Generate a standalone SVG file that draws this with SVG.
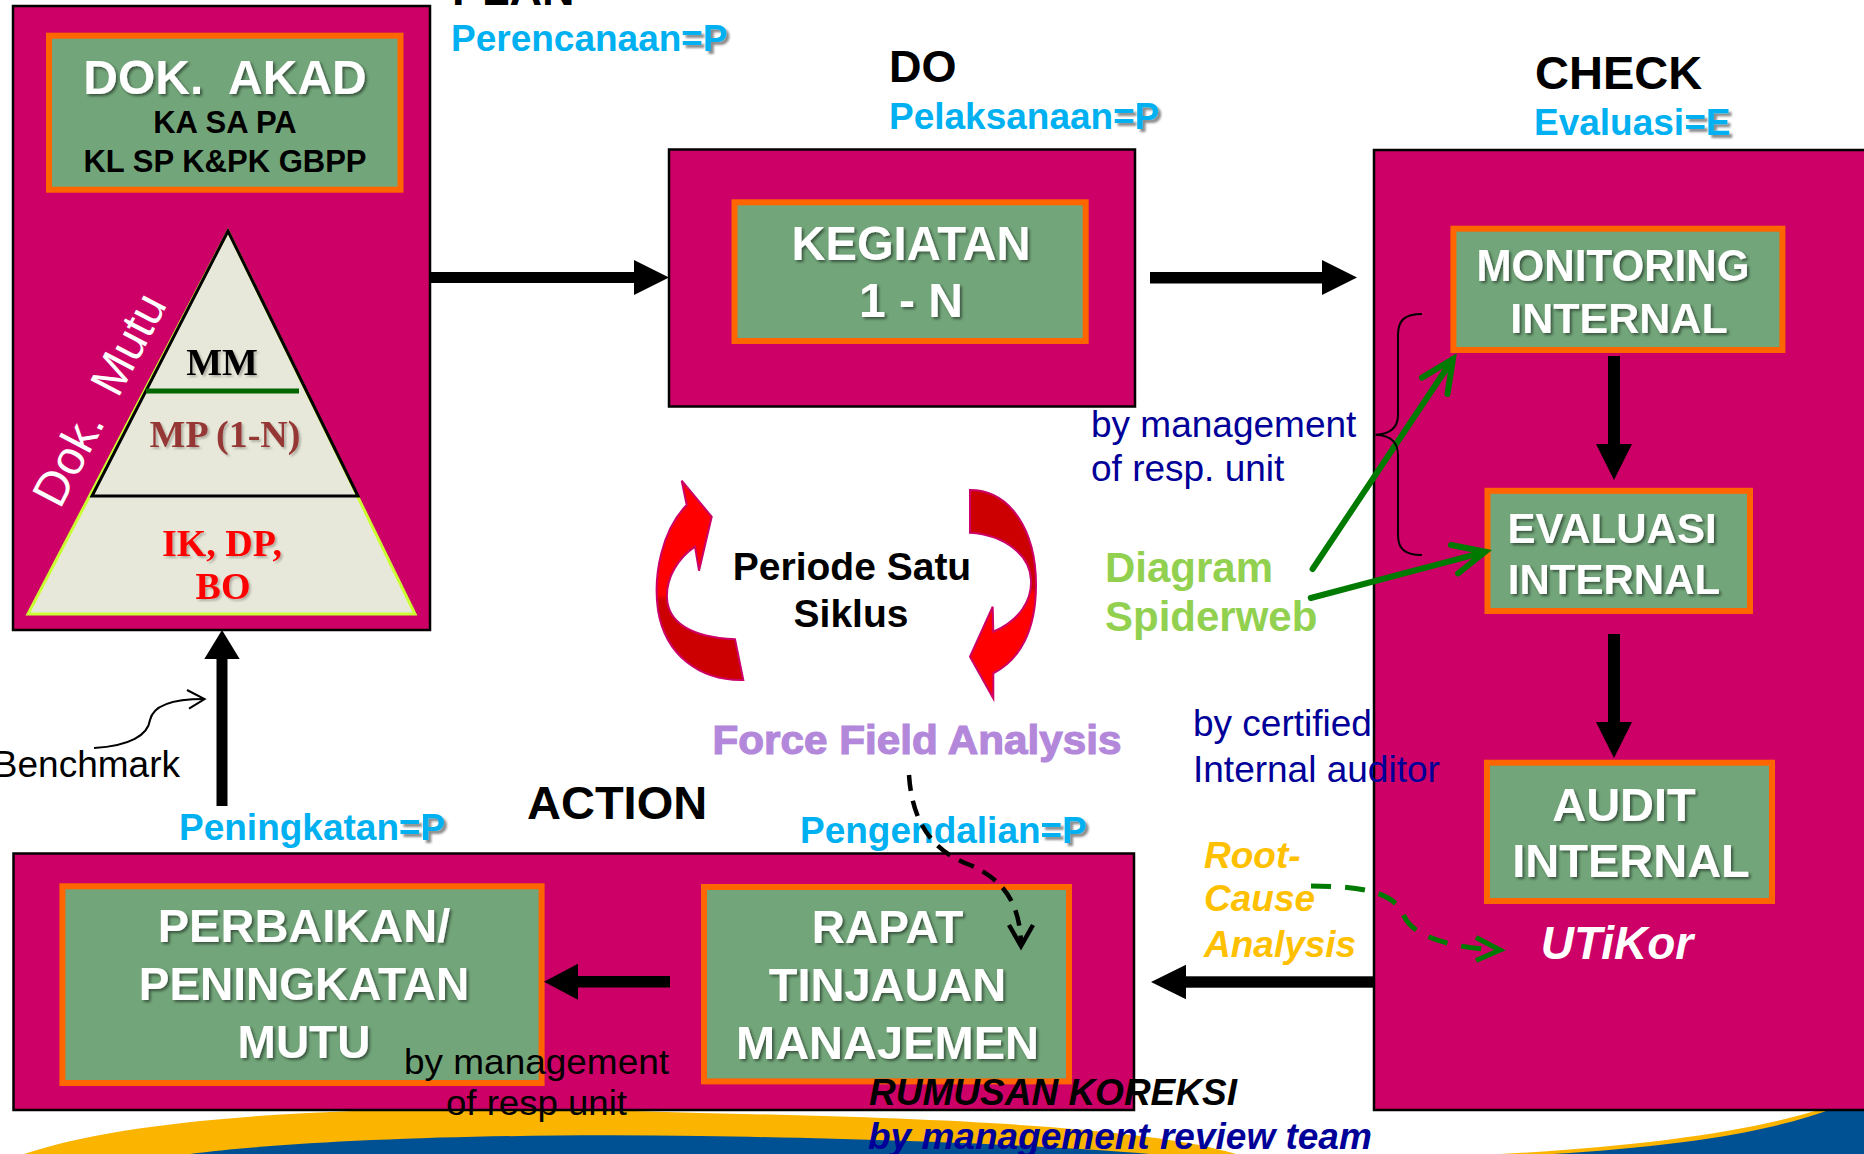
<svg xmlns="http://www.w3.org/2000/svg" width="1864" height="1154" viewBox="0 0 1864 1154">
  <defs>
    <style>
      .sans { font-family: "Liberation Sans", Arial, sans-serif; }
      .serif { font-family: "Liberation Serif", "Times New Roman", serif; font-weight: bold; }
      .frame { fill: #CC0066; stroke: #000; stroke-width: 2.5; }
      .card { fill: #72A67A; stroke: #FF6600; stroke-width: 6; }
      .lbl { font-family: "Liberation Sans", Arial, sans-serif; font-weight: bold; fill: #fff; text-anchor: middle; filter: url(#soft); }
      .head { font-family: "Liberation Sans", Arial, sans-serif; font-weight: bold; fill: #000; }
      .phase { font-family: "Liberation Sans", Arial, sans-serif; font-weight: bold; fill: #00B0F0; font-size: 37px; }
      .code { filter: url(#drop); }
      .navy { font-family: "Liberation Sans", Arial, sans-serif; fill: #000099; font-size: 37px; }
      .bar { fill: #000; }
      .green { fill: none; stroke: #007A00; stroke-width: 6; stroke-linecap: round; }
      .thin { fill: none; stroke: #000; stroke-width: 2; }
    </style>
    <filter id="soft" x="-10%" y="-30%" width="130%" height="170%">
      <feGaussianBlur in="SourceAlpha" stdDeviation="1.8"/>
      <feOffset dx="2" dy="2" result="b"/>
      <feFlood flood-color="#000" flood-opacity="0.5"/>
      <feComposite in2="b" operator="in"/>
      <feMerge><feMergeNode/><feMergeNode in="SourceGraphic"/></feMerge>
    </filter>
    <filter id="lite" x="-10%" y="-30%" width="130%" height="170%">
      <feGaussianBlur in="SourceAlpha" stdDeviation="1.2"/>
      <feOffset dx="2" dy="2" result="b"/>
      <feFlood flood-color="#000" flood-opacity="0.25"/>
      <feComposite in2="b" operator="in"/>
      <feMerge><feMergeNode/><feMergeNode in="SourceGraphic"/></feMerge>
    </filter>
    <filter id="drop" x="-20%" y="-30%" width="150%" height="170%">
      <feGaussianBlur in="SourceAlpha" stdDeviation="1.2"/>
      <feOffset dx="2.5" dy="2.5" result="b"/>
      <feFlood flood-color="#000" flood-opacity="0.45"/>
      <feComposite in2="b" operator="in"/>
      <feMerge><feMergeNode/><feMergeNode in="SourceGraphic"/></feMerge>
    </filter>
    <linearGradient id="redL" gradientUnits="userSpaceOnUse" x1="0" y1="480" x2="0" y2="681">
      <stop offset="0.57" stop-color="#FF0000"/>
      <stop offset="0.6" stop-color="#CC0000"/>
    </linearGradient>
    <linearGradient id="redR" gradientUnits="userSpaceOnUse" x1="0" y1="490" x2="0" y2="699">
      <stop offset="0.47" stop-color="#CC0000"/>
      <stop offset="0.5" stop-color="#FF0000"/>
    </linearGradient>
  </defs>

  <rect width="1864" height="1154" fill="#fff"/>

  <!-- decorative swoosh along the bottom edge -->
  <g id="swoosh">
    <path d="M24,1154 C150,1112 400,1102 700,1113 C950,1118 1150,1128 1236,1154 Z" fill="#FBB400"/>
    <path d="M190,1154 C300,1140 500,1133 700,1136 C900,1139 1050,1146 1150,1154 Z" fill="#005194"/>
    <path d="M1500,1154 C1650,1146 1760,1130 1830,1106 L1864,1106 L1864,1154 Z" fill="#FBB400"/>
    <path d="M1552,1154 C1680,1146 1772,1132 1834,1108 L1864,1108 L1864,1154 Z" fill="#005194"/>
  </g>

  <!-- PLAN -->
  <g id="plan">
    <rect class="frame" x="13" y="6" width="417" height="624"/>
    <rect class="card" x="49" y="35.7" width="351.5" height="154"/>
    <text class="lbl" x="225" y="94" font-size="48" style="white-space:pre">DOK.  AKAD</text>
    <text class="head" x="225" y="133" font-size="31" text-anchor="middle">KA SA PA</text>
    <text class="head" x="225" y="171.5" font-size="31" text-anchor="middle">KL SP K&amp;PK GBPP</text>
    <g id="pyramid">
      <polygon points="228,231 28,614 415,614" fill="#E8E8DA" stroke="#CCFF33" stroke-width="3"/>
      <polygon points="228,231 92,496 358,496" fill="none" stroke="#000" stroke-width="3"/>
      <line x1="146" y1="391" x2="299" y2="391" stroke="#006600" stroke-width="5"/>
      <text class="serif" x="222" y="375" font-size="38" text-anchor="middle" fill="#000" filter="url(#lite)">MM</text>
      <text class="serif" x="225" y="447" font-size="38" text-anchor="middle" fill="#953735" filter="url(#lite)">MP (1-N)</text>
      <text class="serif" x="222" y="556" font-size="38" text-anchor="middle" fill="#FF0000" filter="url(#lite)">IK, DP,</text>
      <text class="serif" x="223" y="599" font-size="38" text-anchor="middle" fill="#FF0000" filter="url(#lite)">BO</text>
    </g>
    <text class="sans" transform="translate(60,510) rotate(-62.4)" font-size="48" fill="#fff" style="white-space:pre">Dok.  Mutu</text>
  </g>
  <text class="head" x="452" y="5" font-size="45">PLAN</text>
  <text class="phase" x="451" y="51">Perencanaan</text>
  <text class="phase code" x="681.3" y="51">=P</text>

  <!-- DO -->
  <g id="do">
    <rect class="frame" x="669" y="149.5" width="466" height="257"/>
    <rect class="card" x="734.5" y="202.3" width="351.2" height="138.7"/>
    <text class="lbl" x="911" y="260" font-size="48" textLength="239" lengthAdjust="spacingAndGlyphs">KEGIATAN</text>
    <text class="lbl" x="911" y="317" font-size="48">1 - N</text>
  </g>
  <text class="head" x="889" y="82" font-size="45">DO</text>
  <text class="phase" x="889" y="129">Pelaksanaan</text>
  <text class="phase code" x="1113.2" y="129">=P</text>

  <!-- CHECK -->
  <g id="check">
    <rect class="frame" x="1374" y="150" width="520" height="960"/>
    <g id="monitoring">
      <rect class="card" x="1453.4" y="228.7" width="329" height="121.3"/>
      <text class="lbl" x="1613" y="281" font-size="44" textLength="273" lengthAdjust="spacingAndGlyphs">MONITORING</text>
      <text class="lbl" x="1619" y="333" font-size="43">INTERNAL</text>
    </g>
    <g id="evaluasi">
      <rect class="card" x="1487.5" y="490.8" width="262.5" height="120.2"/>
      <text class="lbl" x="1612" y="543" font-size="42">EVALUASI</text>
      <text class="lbl" x="1614" y="594" font-size="42">INTERNAL</text>
    </g>
    <g id="audit">
      <rect class="card" x="1487" y="762.7" width="285" height="138.3"/>
      <text class="lbl" x="1624" y="821" font-size="47">AUDIT</text>
      <text class="lbl" x="1631" y="877" font-size="47">INTERNAL</text>
    </g>
    <text class="sans" x="1617" y="959" font-size="46" font-weight="bold" font-style="italic" fill="#fff" text-anchor="middle">UTiKor</text>
  </g>
  <text class="head" x="1535" y="89" font-size="47">CHECK</text>
  <text class="phase" x="1534" y="135">Evaluasi</text>
  <text class="phase code" x="1684.5" y="135">=E</text>

  <!-- ACTION -->
  <g id="action">
    <rect class="frame" x="13.5" y="853.5" width="1120.5" height="256.5"/>
    <g id="perbaikan">
      <rect class="card" x="62.4" y="886.3" width="479.2" height="196.7"/>
      <text class="lbl" x="304" y="942" font-size="47">PERBAIKAN/</text>
      <text class="lbl" x="304" y="1000" font-size="46">PENINGKATAN</text>
      <text class="lbl" x="304" y="1058" font-size="46">MUTU</text>
    </g>
    <g id="rapat">
      <rect class="card" x="704" y="887" width="365" height="194.4"/>
      <text class="lbl" x="887.5" y="943" font-size="46">RAPAT</text>
      <text class="lbl" x="887.5" y="1001" font-size="47">TINJAUAN</text>
      <text class="lbl" x="887.5" y="1059" font-size="47">MANAJEMEN</text>
    </g>
  </g>
  <text class="head" x="527" y="819" font-size="47">ACTION</text>
  <text class="phase" x="179" y="840">Peningkatan</text>
  <text class="phase code" x="399" y="840">=P</text>
  <text class="phase" x="800" y="843">Pengendalian</text>
  <text class="phase code" x="1040.6" y="843">=P</text>

  <!-- cycle indicator -->
  <g id="cycle">
    <path d="M681.7,480.7 L711.7,516.7 L699,570.7 L695,546.7 C678,558 666,578 667,598 C668,622 690,637 735,639.3 L743.3,680 C700,681 665,655 658,610 C653,575 662,530 686.7,505 Z" fill="url(#redL)" stroke="#CC0066" stroke-width="2"/>
    <path d="M970,490 C1010,490 1036,530 1036,585 C1036,630 1020,660 993.3,673.3 L993.3,698.3 L970,656.7 L992.7,606.7 L993.3,631.7 C1020,620 1032,600 1031,580 C1030,555 1005,535 970,532.7 Z" fill="url(#redR)" stroke="#CC0066" stroke-width="2"/>
    <text class="head" x="852" y="580" font-size="39" text-anchor="middle">Periode Satu</text>
    <text class="head" x="851" y="627" font-size="39" text-anchor="middle">Siklus</text>
  </g>

  <!-- connectors -->
  <g id="connectors">
    <rect class="bar" x="430" y="272" width="204" height="11"/>
    <polygon class="bar" points="634,260 669,277.5 634,295"/>
    <rect class="bar" x="1150" y="272" width="172" height="11.5"/>
    <polygon class="bar" points="1322,260 1357,277.5 1322,295"/>
    <rect class="bar" x="1608" y="356" width="12" height="88"/>
    <polygon class="bar" points="1596,444 1632,444 1614,480"/>
    <rect class="bar" x="1608" y="634" width="12" height="88"/>
    <polygon class="bar" points="1596,722 1632,722 1614,758"/>
    <rect class="bar" x="1186" y="976.3" width="188" height="11.4"/>
    <polygon class="bar" points="1186,964.7 1151,982 1186,999.3"/>
    <rect class="bar" x="578" y="976" width="92" height="11.5"/>
    <polygon class="bar" points="578,963.7 544,981.7 578,999.7"/>
    <rect class="bar" x="216.5" y="659" width="11" height="147"/>
    <polygon class="bar" points="204.3,659 239.7,659 222,630"/>
    <!-- spiderweb pointers -->
    <path class="green" d="M1312.6,569 L1452.9,359 M1422,377.6 L1452.9,359 L1447.5,394"/>
    <path class="green" d="M1310.8,598 L1485.2,551.8 M1451,545 L1485.2,551.8 L1458,573.5"/>
    <!-- force field analysis to review meeting -->
    <path d="M909,775 C912,820 930,850 970,865 C1005,880 1020,905 1021,944" fill="none" stroke="#000" stroke-width="4.5" stroke-dasharray="16 10"/>
    <path d="M1009,925 L1021,946 L1033,925" fill="none" stroke="#000" stroke-width="4.5"/>
    <!-- root cause analysis to UTiKor -->
    <path d="M1311,886 C1365,886 1395,893 1404,916 C1415,940 1460,948 1496,950" fill="none" stroke="#007A00" stroke-width="5" stroke-dasharray="20 14"/>
    <path d="M1476,937.5 L1500,950 L1476,960.5" fill="none" stroke="#007A00" stroke-width="5"/>
    <!-- benchmark pointer -->
    <path class="thin" d="M94,748 C130,746 148,735 150,720 C153,706 172,699 204,699"/>
    <path class="thin" d="M187,690 L204.6,699 L189,708.6"/>
    <!-- brace -->
    <path class="thin" d="M1422,314 C1405,314 1398,320 1398,335 L1398,415 C1398,428 1390,434 1375.5,434.7 C1390,435.5 1398,441 1398,455 L1398,535 C1398,549 1405,555 1422,555"/>
  </g>

  <!-- annotations -->
  <g id="notes">
    <text class="navy" x="1091" y="437">by management</text>
    <text class="navy" x="1091" y="481">of resp. unit</text>
    <text class="navy" x="1193" y="736">by certified</text>
    <text class="navy" x="1193" y="781.5">Internal auditor</text>
    <text class="sans" x="1105" y="582" font-size="42" font-weight="bold" fill="#92D050">Diagram</text>
    <text class="sans" x="1105" y="631" font-size="42" font-weight="bold" fill="#92D050">Spiderweb</text>
    <text class="sans" x="712.5" y="754" font-size="40" font-weight="bold" fill="#B388DB" stroke="#B388DB" stroke-width="1.2" textLength="409" lengthAdjust="spacingAndGlyphs">Force Field Analysis</text>
    <text class="sans" font-size="37" font-weight="bold" font-style="italic" fill="#FFC000">
      <tspan x="1204" y="868">Root-</tspan>
      <tspan x="1204" y="911">Cause</tspan>
      <tspan x="1204" y="957">Analysis</tspan>
    </text>
    <text class="sans" x="869" y="1105" font-size="37" font-weight="bold" font-style="italic" fill="#000">RUMUSAN KOREKSI</text>
    <text class="sans" x="868" y="1149" font-size="37" font-weight="bold" font-style="italic" fill="#000099">by management review team</text>
    <text class="sans" x="404" y="1074" font-size="35" fill="#000" textLength="265" lengthAdjust="spacingAndGlyphs">by management</text>
    <text class="sans" x="446" y="1115" font-size="35" fill="#000" textLength="181" lengthAdjust="spacingAndGlyphs">of resp unit</text>
    <text class="sans" x="180" y="777" font-size="37" fill="#000" text-anchor="end">Benchmark</text>
  </g>
</svg>
